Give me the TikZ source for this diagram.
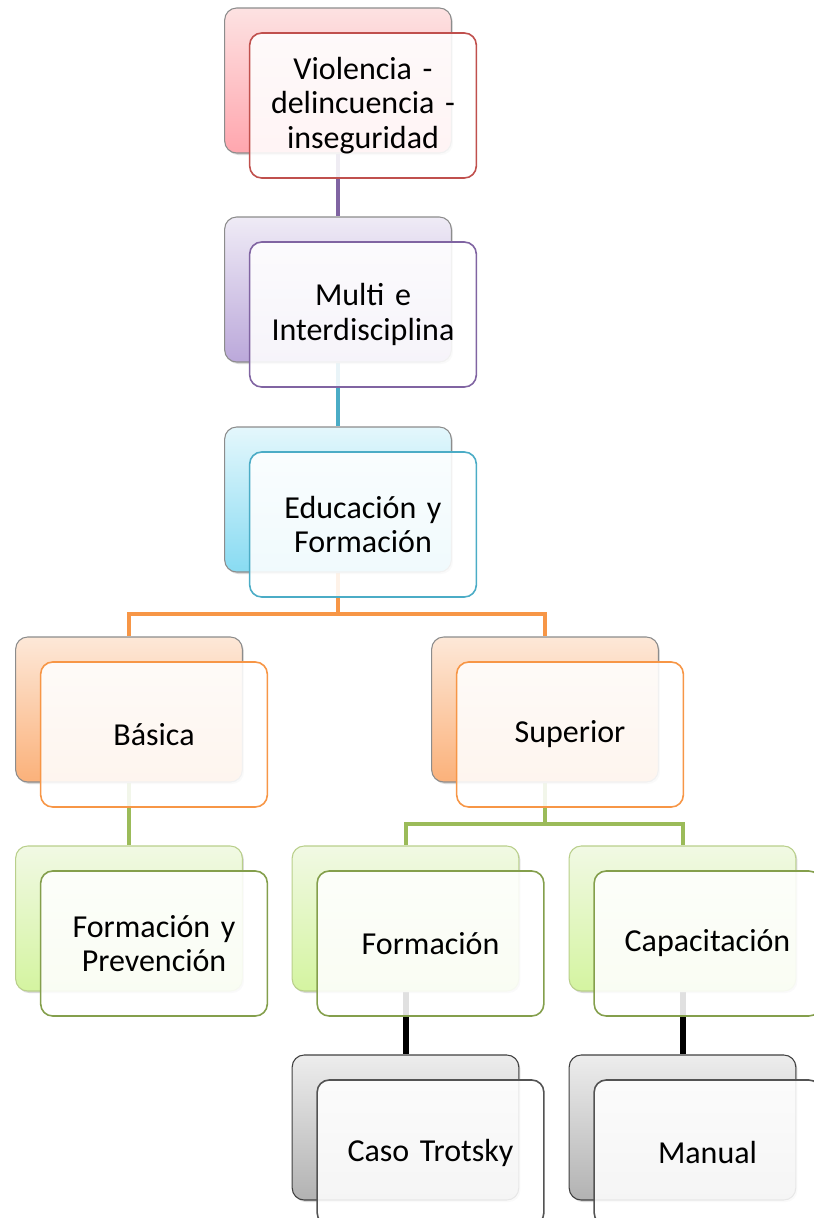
\documentclass[tikz,border=0pt]{standalone}
\usepackage{fontspec}
\setmainfont{Carlito}
\usepackage{tikz}
\usetikzlibrary{shadows}

\definecolor{redline}{HTML}{C0504D}
\definecolor{purpline}{HTML}{8064A2}
\definecolor{tealline}{HTML}{4BACC6}
\definecolor{orangeline}{HTML}{F79646}
\definecolor{greenline}{HTML}{9BBB59}
\definecolor{greyline}{HTML}{404040}
\definecolor{redtop}{HTML}{FDE2E2}
\definecolor{redbot}{HTML}{FFA6AE}
\definecolor{purptop}{HTML}{EFEBF6}
\definecolor{purpbot}{HTML}{BBA8DA}
\definecolor{tealtop}{HTML}{E4F7FC}
\definecolor{tealbot}{HTML}{88DBF2}
\definecolor{orangetop}{HTML}{FDE8D8}
\definecolor{orangebot}{HTML}{FBB17A}
\definecolor{greentop}{HTML}{F1F9E4}
\definecolor{greenbot}{HTML}{D4F4A0}
\definecolor{greytop}{HTML}{EDEDED}
\definecolor{greybot}{HTML}{B2B2B2}

\pgfdeclarelayer{background}
\pgfsetlayers{background,main}

\tikzset{
  back/.style={rectangle, rounded corners=9pt, minimum width=170pt, minimum height=108.75pt,
    top color=#1top, bottom color=#1bot, draw=black!45, line width=0.8pt,
    drop shadow={shadow xshift=1.2pt, shadow yshift=-1.5pt, opacity=0.3}},
  front/.style={rectangle, rounded corners=9pt, minimum width=170pt, minimum height=108.75pt,
    inner sep=0pt, draw=#1, line width=1.2pt, fill=white, fill opacity=0.88, text opacity=1,
    text width=160pt, align=center, xshift=18.75pt, yshift=-18.75pt,
    font=\fontsize{24pt}{26pt}\selectfont},
  link/.style={draw=#1, line width=3pt},
}

\begin{document}
\begin{tikzpicture}[x=0.75pt, y=-0.75pt]
  \useasboundingbox (0,0) rectangle (814,1218);

  % back boxes
  \node (violb) [back=red] at (338,80.5) {};
  \node (multib) [back=purp] at (338,289.5) {};
  \node (edub) [back=teal] at (338,499.5) {};
  \node (basb) [back=orange] at (129,709.5) {};
  \node (supb) [back=orange] at (545,709.5) {};
  \node (prevb) [back=green, draw=greenline!70] at (129,918.5) {};
  \node (formb) [back=green, draw=greenline!70] at (405.5,918.5) {};
  \node (capb) [back=green, draw=greenline!70] at (682.5,918.5) {};
  \node (trotb) [back=grey, draw=greyline] at (405.5,1127.5) {};
  \node (manb) [back=grey, draw=greyline] at (682.5,1127.5) {};

  % front boxes
  \node (viol) [front=redline] at (violb) {Violencia -\\ delincuencia -\\ inseguridad};
  \node (multi) [front=purpline] at (multib) {Multi e\\ Interdisciplina};
  \node (edu) [front=tealline] at (edub) {Educación y\\ Formación};
  \node (bas) [front=orangeline] at (basb) {Básica};
  \node (sup) [front=orangeline] at (supb) {Superior};
  \node (prev) [front=greenline!85!black] at (prevb) {Formación y\\ Prevención};
  \node (form) [front=greenline!85!black] at (formb) {Formación};
  \node (cap) [front=greenline!85!black] at (capb) {Capacitación};
  \node (trot) [front=greyline!90] at (trotb) {Caso Trotsky};
  \node (man) [front=greyline!90] at (manb) {Manual};

  \coordinate (edusplit) at (338,614);
  \coordinate (supsplit) at (545,824);

  % connectors
  \begin{pgfonlayer}{background}
    \draw[link=purpline] (violb.south) -- (multib.north);
    \draw[link=tealline] (multib.south) -- (edub.north);
    \draw[link=orangeline] (edub.south) -- (edusplit) -| (basb.north);
    \draw[link=orangeline] (edusplit) -| (supb.north);
    \draw[link=greenline] (basb.south) -- (prevb.north);
    \draw[link=greenline] (supb.south) -- (supsplit) -| (formb.north);
    \draw[link=greenline] (supsplit) -| (capb.north);
    \draw[link=black, line width=4.5pt] (formb.south) -- (trotb.north);
    \draw[link=black, line width=4.5pt] (capb.south) -- (manb.north);
  \end{pgfonlayer}
\end{tikzpicture}
\end{document}
